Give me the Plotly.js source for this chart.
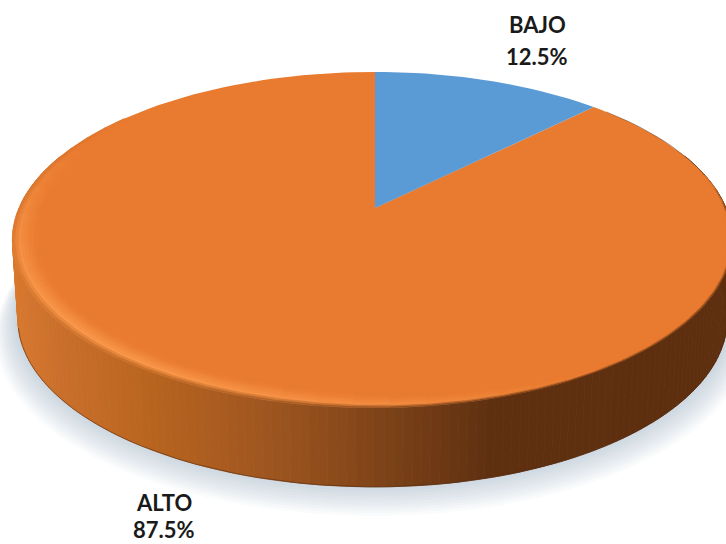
<!DOCTYPE html>
<html>
<head>
<meta charset="utf-8">
<script src="https://cdn.plot.ly/plotly-3.0.1.min.js"></script>
<style>html,body{margin:0;padding:0;background:#fff}#chart{width:726px;height:544px}</style>
</head>
<body>
<div id="chart"></div>
<script>
// Nivel results
const categories = ['BAJO', 'ALTO'];
const shares = [12.5, 87.5];
const sliceColors = ['#5b9bd5', '#e97b30'];

// Disc geometry in plot units: a tilted disc under mild perspective
const centre = {x: 375, y: 208};
const persp = 0.19, radiusLeft = 356, radiusRight = 351, radiusY = 161.9;
const thickness = 79, baseShrink = 0.985;

function rimPoint(deg, r) {
  const a = deg * Math.PI / 180, u = r * Math.sin(a), v = r * Math.cos(a);
  const w = 1 + persp * v;
  return [centre.x + (u < 0 ? radiusLeft : radiusRight) * u / w, centre.y - radiusY * v / w];
}
function basePoint(deg, r) {
  const p = rimPoint(deg, r);
  return [centre.x + (p[0] - centre.x) * baseShrink, p[1] + thickness];
}

const hex = c => [1, 3, 5].map(i => parseInt(c.substr(i, 2), 16));
function mix(a, b, t) {
  const A = hex(a), B = hex(b);
  return '#' + A.map((n, i) => Math.round(n + (B[i] - n) * t).toString(16).padStart(2, '0')).join('');
}
// Wall shade runs left to right across the visible front
const wallStops = [[0,'#dc7a30'],[60,'#c96f2b'],[150,'#b8641f'],[250,'#a35820'],[340,'#8a4a1b'],[420,'#723c15'],[490,'#5f3010'],[740,'#5e2f0f']];
function wallColor(x) {
  for (let i = 1; i < wallStops.length; i++) {
    if (x <= wallStops[i][0]) {
      const p = wallStops[i - 1], q = wallStops[i];
      return mix(p[1], q[1], Math.max(0, (x - p[0]) / (q[0] - p[0])));
    }
  }
  return wallStops[wallStops.length - 1][1];
}

const traces = [];
function poly(pts, color, lineW) {
  traces.push({
    type: 'scatter', mode: 'lines', fill: 'toself', fillcolor: color,
    x: pts.map(p => p[0]), y: pts.map(p => p[1]),
    line: {color: color, width: lineW === undefined ? 0 : lineW},
    hoverinfo: 'skip', showlegend: false
  });
}
function contour(pts, color) {
  traces.push({type: 'scatter', mode: 'lines', x: pts.map(p => p[0]), y: pts.map(p => p[1]),
    line: {color: color, width: 1}, hoverinfo: 'skip', showlegend: false});
}
function range(from, to, step) {
  const out = [];
  for (let d = from; d <= to + 1e-6; d += step) out.push(d);
  return out;
}

// Soft cast shadow under the disc
const circle = range(0, 360, 4);
for (let i = 12; i >= 1; i--) {
  const grow = 1 + i * 0.005, drop = i * 1.5;
  poly(circle.map(d => {
    const p = basePoint(d, grow);
    return [p[0], p[1] + drop - 4];
  }), 'rgba(150,165,185,0.045)');
}

// Wall of the disc, one strip per step around the front
const wallStep = 1.25;
range(70, 290 - wallStep, wallStep).forEach(d => {
  const e = d + wallStep;
  const a = rimPoint(d, 1), b = rimPoint(e, 1), c = basePoint(e, 1), f = basePoint(d, 1);
  poly([a, b, c, f, a], wallColor((a[0] + b[0]) / 2), 0.8);
});
// Thin dark contour along the lower edge
contour(range(100, 258, 3).map(d => basePoint(d, 1)), 'rgba(80,40,12,0.55)');

// Top face: each slice is swept from its share of the total
const total = shares.reduce((s, v) => s + v, 0);
function slicePoints(startDeg, endDeg) {
  const n = Math.max(4, Math.ceil((endDeg - startDeg) / 2));
  const pts = [[centre.x, centre.y]];
  for (let i = 0; i <= n; i++) pts.push(rimPoint(startDeg + (endDeg - startDeg) * i / n, 1));
  pts.push([centre.x, centre.y]);
  return pts;
}
let sweep = 0;
const sliceRanges = shares.map(v => {
  const r = [sweep, sweep + v / total * 360];
  sweep = r[1];
  return r;
});
poly(slicePoints(sliceRanges[1][0], sliceRanges[1][1]), sliceColors[1]);
// Shaded edge on the far right of the rim
contour(range(48, 92, 3).map(d => rimPoint(d, 1)), 'rgba(90,55,30,0.45)');

// Bevel along the front rim: bright on the lit left, shaded on the right
const bevelBands = 8, bevelStep = 5;
function bevelWidth(d) { return d < 150 ? 0.022 : d < 195 ? 0.022 + 0.043 * (d - 150) / 45 : 0.065; }
function glow(d) { return Math.max(0, Math.cos((d - 222) * Math.PI / 150)); }
function fade(d) { return Math.min(1, Math.max(0, (d - 78) / 14), Math.max(0, (312 - d) / 40)); }
range(78, 312 - bevelStep, bevelStep).forEach(d => {
  const e = d + bevelStep, m = d + bevelStep / 2;
  const tip = rimPoint(m, 1);
  const bright = mix(sliceColors[1], '#f9974a', glow(m));
  for (let b = 0; b < bevelBands; b++) {
    const t = (b + 0.5) / bevelBands;
    let col = t < 0.3 ? mix(wallColor(tip[0]), bright, t / 0.3) : mix(bright, sliceColors[1], (t - 0.3) / 0.7);
    col = mix(sliceColors[1], col, fade(m));
    const r1 = 1 - bevelWidth(m) * b / bevelBands, r2 = 1 - bevelWidth(m) * (b + 1) / bevelBands;
    const A = rimPoint(d, r1), B = rimPoint(e, r1), C = rimPoint(e, r2), D = rimPoint(d, r2);
    poly([A, B, C, D, A], col, 0.6);
  }
});

poly(slicePoints(sliceRanges[0][0], sliceRanges[0][1]), sliceColors[0]);

// Category labels with the share they describe
const labelX = [537, 164];
const nameY = [24, 502];
const shareY = [56, 529];
const annotations = [];
categories.forEach((name, i) => {
  const share = (shares[i] / total * 100).toFixed(1) + '%';
  [[name, nameY[i]], [share, shareY[i]]].forEach(([text, y]) => annotations.push({
    x: labelX[i], y: y, xref: 'x', yref: 'y', text: text, showarrow: false,
    xanchor: 'center', yanchor: 'middle',
    font: {family: 'Lato, "Open Sans", sans-serif', size: 22, color: '#1a1a1a', weight: 700}
  }));
});

const hidden = {visible: false, fixedrange: true};
Plotly.newPlot('chart', traces, {
  width: 726, height: 544,
  margin: {l: 0, r: 0, t: 0, b: 0},
  paper_bgcolor: '#ffffff', plot_bgcolor: '#ffffff',
  showlegend: false, hovermode: false,
  xaxis: Object.assign({range: [0, 726]}, hidden),
  yaxis: Object.assign({range: [544, 0]}, hidden),
  annotations: annotations
}, {displayModeBar: false, staticPlot: true});
</script>
</body>
</html>
